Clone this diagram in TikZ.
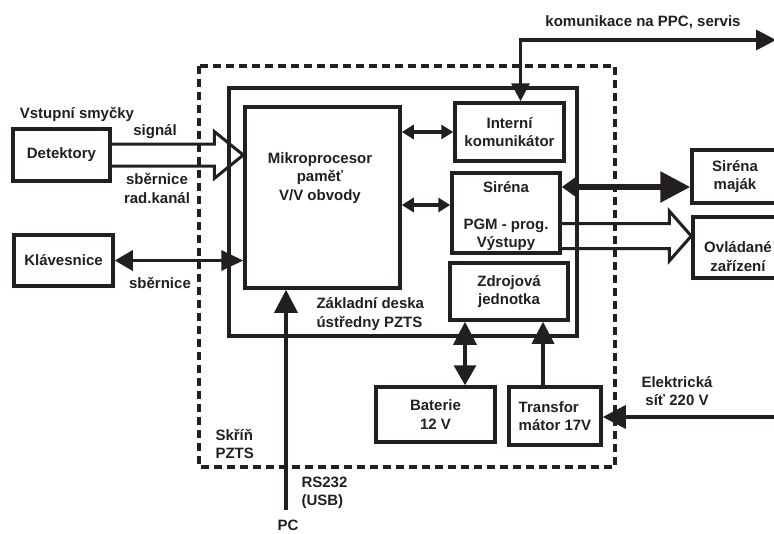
\documentclass[tikz,border=0pt]{standalone}
\usepackage{fontspec}
\setmainfont{Liberation Sans}
\usetikzlibrary{arrows.meta,calc}
\definecolor{ink}{RGB}{35,31,32}

\begin{document}
\begin{tikzpicture}[x=1pt,y=-1pt,
    every node/.style={font=\bfseries\fontsize{15}{18.5}\selectfont, text=ink, align=center},
    box/.style={draw=ink, line width=3.5pt, inner sep=0pt},
    wire/.style={draw=ink, line width=3.5pt},
    hollow/.style={draw=ink, line width=3pt, line join=miter}]
    \useasboundingbox (0,0) rectangle (774,533);

    % skrin a zakladni deska
    \draw[ink, line width=3.5pt, dash pattern=on 8pt off 5pt] (199,66) rectangle (615,467);
    \draw[ink, line width=3.5pt] (229,88) rectangle (577,336);

    \node[box, minimum width=97, minimum height=52] (det) at (61.5,155) {Detektory};
    \node[box, minimum width=99, minimum height=51] (klav) at (63.5,260.5) {Klávesnice};
    \node[box, minimum width=155, minimum height=181] (micro) at (322.5,197.5) {};
    \node (microtxt) at (320,178) {Mikroprocesor\\paměť\\V/V obvody};
    \node[box, minimum width=109, minimum height=58] (intk) at (509.5,132) {Interní\\komunikátor};
    \node[box, minimum width=108, minimum height=80] (siren) at (506,213) {};
    \node (sirentxt) at (506,216) {Siréna\\[18.5pt]PGM - prog.\\Výstupy};
    \node[box, minimum width=118, minimum height=57] (zdroj) at (509,291.5) {Zdrojová\\jednotka};
    \node[box, minimum width=119, minimum height=55] (bat) at (435.5,414.5) {Baterie\\12 V};
    \node[box, minimum width=92, minimum height=58, align=left] (trans) at (555,416) {Transfor\\mátor 17V};
    \node[box, minimum width=86, minimum height=53] (smaj) at (735,176.5) {Siréna\\maják};
    \node[box, minimum width=90, minimum height=61] (ovl) at (738,247.5) {};
    \node (ovltxt) at (738,256.5) {Ovládané\\zařízení};

    \node (vstup) at (77,114) {Vstupní smyčky};
    \node (signal) at (155,132) {signál};
    \node (radk) at (157,188.5) {sběrnice\\rad.kanál};
    \node (sbk) at (160,283) {sběrnice};
    \node (kom) at (643,22) {komunikace na PPC, servis};
    \node[anchor=west, align=left] (zakl) at (313,314) {Základní deska\\ústředny PZTS};
    \node[anchor=west, align=left] (skrin) at (212,444) {Skříň\\PZTS};
    \node[anchor=west, align=left] (rs) at (298,493) {RS232\\(USB)};
    \node (pc) at (288,525) {PC};
    \node (sit) at (677,391) {Elektrická\\síť 220 V};

    \coordinate (kom end) at (776,40);
    \coordinate (sit end) at (776,417);
    \coordinate (pc top) at (286,510);

    % sirsi sipky
    \draw[hollow] ($(det.east)+(0,-11)$) -- ($(micro.west |- det.east)+(-29,-11)$) -- ++(0,-12.5)
        -- (micro.west |- det.east) -- ++(-29,23.5) -- ++(0,-12.5) -- ($(det.east)+(0,11)$);
    \draw[hollow] ($(siren.east)+(0,10.5)$) -- ($(ovl.west |- siren.east)+(-22,10.5)$) -- ++(0,-12.5)
        -- ($(ovl.west |- siren.east)+(0,23)$) -- ++(-22,25) -- ++(0,-12.5) -- ($(siren.east)+(0,35.5)$);

    \draw[wire, {Triangle[length=18pt,width=20pt]}-{Triangle[length=22pt,width=20pt]}] (klav.east) -- (micro.west |- klav.east);
    \draw[wire, {Triangle[length=12pt,width=14pt]}-{Triangle[length=12pt,width=14pt]}] (micro.east |- intk.west) -- (intk.west);
    \draw[wire, {Triangle[length=12pt,width=14pt]}-{Triangle[length=12pt,width=14pt]}] ($(micro.east |- siren.west)+(0,-8)$) -- ($(siren.west)+(0,-8)$);
    \draw[wire, line width=6pt, {Triangle[length=17pt,width=23pt]}-{Triangle[length=30pt,width=30pt]}] ($(siren.east)+(0,-26)$) -- ($(smaj.west |- siren.east)+(0,-26)$);
    \draw[wire, {Triangle[length=18pt,width=18pt]}-{Triangle[length=20pt,width=20pt]}] ($(intk.north)+(11,0)$) |- (kom end);
    \draw[wire, {Triangle[length=20pt,width=22pt]}-{Triangle[length=23pt,width=23pt]}] ($(bat.north)+(29.5,0)$) -- ($(zdroj.south)+(-44,0)$);
    \draw[wire, -{Triangle[length=22pt,width=22pt]}] ($(trans.north)+(-12,0)$) -- ($(zdroj.south)+(34,0)$);
    \draw[wire, -{Triangle[length=23pt,width=23pt]}] (sit end) -- (trans.east |- sit end);
    \draw[wire, -{Triangle[length=23pt,width=23pt]}] (pc top) -- (micro.south -| pc top);
\end{tikzpicture}
\end{document}
